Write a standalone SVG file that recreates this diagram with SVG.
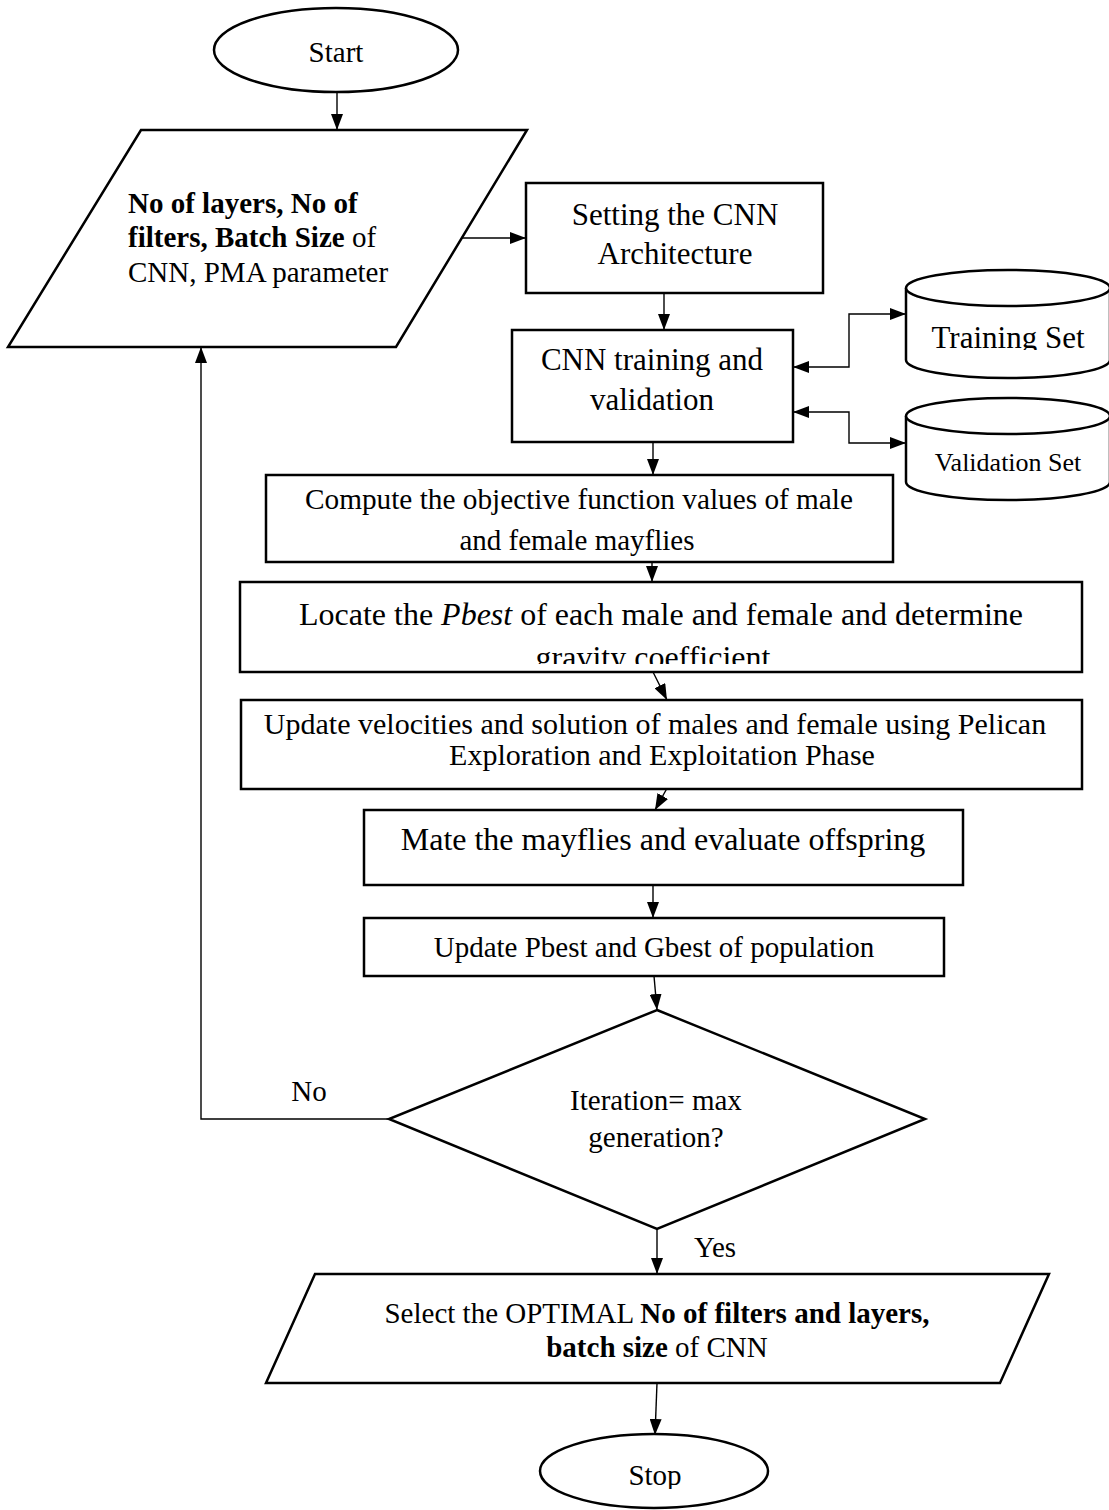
<svg xmlns="http://www.w3.org/2000/svg" width="1109" height="1510" viewBox="0 0 1109 1510">
<style>
.s{fill:#fff;stroke:#000;stroke-width:2.5}
.c{fill:none;stroke:#000;stroke-width:1.4}
.t{font-family:"Liberation Serif","Times New Roman",serif;fill:#000}
.m{text-anchor:middle}
.b{font-weight:bold}
</style>
<defs>
<marker id="ah" viewBox="0 0 16 12" refX="16" refY="6" markerWidth="16" markerHeight="12" markerUnits="userSpaceOnUse" orient="auto-start-reverse"><path d="M0,0 L16,6 L0,12 z" fill="#000"/></marker>
<clipPath id="clipLoc"><rect x="240" y="582" width="842" height="82"/></clipPath>
<clipPath id="clipTr"><rect x="906" y="270" width="204" height="80"/></clipPath>
<clipPath id="clipStop"><rect x="540" y="1435" width="228" height="54"/></clipPath>
</defs>
<rect width="1109" height="1510" fill="#fff"/>

<g id="connectors">
<path class="c" d="M337,92 L337,130" marker-end="url(#ah)"/>
<path class="c" d="M462,238 L526,238" marker-end="url(#ah)"/>
<path class="c" d="M664,293 L664,330" marker-end="url(#ah)"/>
<path class="c" d="M793,367 L849,367 L849,314 L906,314" marker-start="url(#ah)" marker-end="url(#ah)"/>
<path class="c" d="M793,412 L849,412 L849,443 L906,443" marker-start="url(#ah)" marker-end="url(#ah)"/>
<path class="c" d="M653,442 L653,475" marker-end="url(#ah)"/>
<path class="c" d="M652,556 L652,582" marker-end="url(#ah)"/>
<path class="c" d="M653,672 L667,700" marker-end="url(#ah)"/>
<path class="c" d="M671,781 L655,810" marker-end="url(#ah)"/>
<path class="c" d="M653,885 L653,918" marker-end="url(#ah)"/>
<path class="c" d="M654,976 L657,1010" marker-end="url(#ah)"/>
<path class="c" d="M657,1229 L657,1274" marker-end="url(#ah)"/>
<path class="c" d="M657,1383 L655,1435" marker-end="url(#ah)"/>
<path class="c" d="M389,1119 L201,1119 L201,347" marker-end="url(#ah)"/>
</g>

<g id="start">
<ellipse class="s" cx="336" cy="50" rx="122" ry="42"/>
<text class="t m" x="336" y="62" font-size="29">Start</text>
</g>

<g id="input">
<polygon class="s" points="141,130 527,130 396,347 8,347"/>
<text class="t" x="128" y="213" font-size="29"><tspan class="b">No of layers, No of</tspan></text>
<text class="t" x="128" y="247" font-size="29"><tspan class="b">filters, Batch Size</tspan> of</text>
<text class="t" x="128" y="282" font-size="29">CNN, PMA parameter</text>
</g>

<g id="setting">
<rect class="s" x="526" y="183" width="297" height="110"/>
<text class="t m" x="675" y="225" font-size="31">Setting the CNN</text>
<text class="t m" x="675" y="264" font-size="31">Architecture</text>
</g>

<g id="training">
<rect class="s" x="512" y="330" width="281" height="112"/>
<text class="t m" x="652" y="370" font-size="31">CNN training and</text>
<text class="t m" x="652" y="410" font-size="31">validation</text>
</g>

<g id="trainset">
<path class="s" d="M906,288 L906,360 A102,18 0 0 0 1110,360 L1110,288"/>
<ellipse class="s" cx="1008" cy="288" rx="102" ry="18"/>
<text class="t m" x="1008" y="348" font-size="31" clip-path="url(#clipTr)">Training Set</text>
</g>

<g id="valset">
<path class="s" d="M906,416 L906,482 A102,18 0 0 0 1110,482 L1110,416"/>
<ellipse class="s" cx="1008" cy="416" rx="102" ry="18"/>
<text class="t m" x="1008" y="471" font-size="26">Validation Set</text>
</g>

<g id="compute">
<rect class="s" x="266" y="475" width="627" height="87"/>
<text class="t m" x="579" y="509" font-size="30" textLength="548" lengthAdjust="spacingAndGlyphs">Compute the objective function values of male</text>
<text class="t m" x="577" y="550" font-size="30" textLength="235" lengthAdjust="spacingAndGlyphs">and female mayflies</text>
</g>

<g id="locate">
<rect class="s" x="240" y="582" width="842" height="90"/>
<g clip-path="url(#clipLoc)">
<text class="t m" x="661" y="625" font-size="32">Locate the <tspan font-style="italic">Pbest</tspan> of each male and female and determine</text>
<text class="t m" x="653" y="668" font-size="32">gravity coefficient</text>
</g>
</g>

<g id="update">
<rect class="s" x="241" y="700" width="841" height="89"/>
<text class="t m" x="655" y="734" font-size="30">Update velocities and solution of males and female using Pelican</text>
<text class="t m" x="662" y="765" font-size="30">Exploration and Exploitation Phase</text>
</g>

<g id="mate">
<rect class="s" x="364" y="810" width="599" height="75"/>
<text class="t m" x="663" y="850" font-size="32">Mate the mayflies and evaluate offspring</text>
</g>

<g id="updatebest">
<rect class="s" x="364" y="918" width="580" height="58"/>
<text class="t m" x="654" y="957" font-size="29">Update Pbest and Gbest of population</text>
</g>

<g id="decision">
<polygon class="s" points="657,1010 925,1119 657,1229 389,1119"/>
<text class="t m" x="656" y="1110" font-size="29">Iteration= max</text>
<text class="t m" x="656" y="1147" font-size="29">generation?</text>
</g>

<g id="labels">
<text class="t m" x="309" y="1101" font-size="29">No</text>
<text class="t m" x="715" y="1257" font-size="29">Yes</text>
</g>

<g id="output">
<polygon class="s" points="315,1274 1049,1274 1000,1383 266,1383"/>
<text class="t m" x="657" y="1323" font-size="29">Select the OPTIMAL <tspan class="b">No of filters and layers,</tspan></text>
<text class="t m" x="657" y="1357" font-size="29"><tspan class="b">batch size</tspan> of CNN</text>
</g>

<g id="stop">
<ellipse class="s" cx="654" cy="1471" rx="114" ry="37"/>
<text class="t m" x="655" y="1485" font-size="29" clip-path="url(#clipStop)">Stop</text>
</g>
</svg>
